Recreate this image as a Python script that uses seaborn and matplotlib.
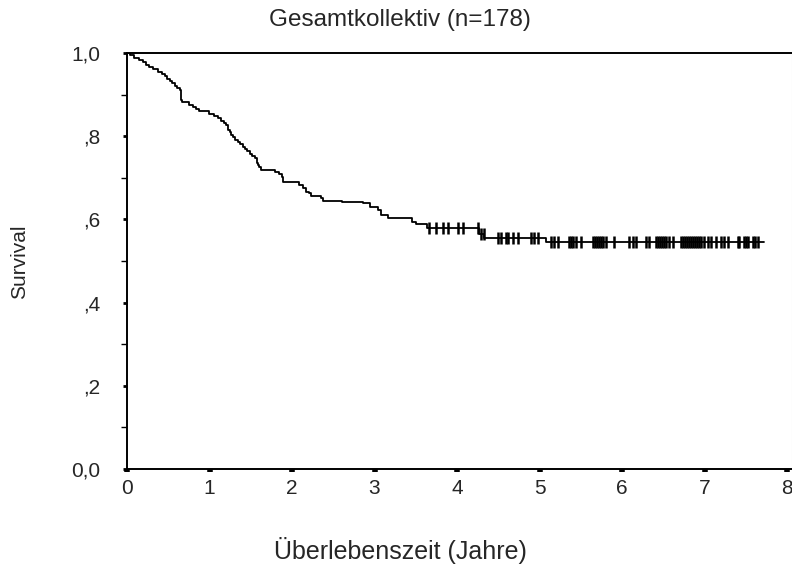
import numpy as np
import pandas as pd
import matplotlib
matplotlib.use("Agg")
import matplotlib.pyplot as plt
import seaborn as sns

sns.set_theme(style="white")
plt.rcParams['font.family'] = ['Liberation Sans', 'DejaVu Sans']

title = "Gesamtkollektiv (n=178)"
xlabel = "Überlebenszeit (Jahre)"
ylabel = "Survival"

# Step function of the Kaplan-Meier curve: time (years) and survival after each event
step_time = [0.00, 0.04, 0.09, 0.14, 0.19, 0.23, 0.27, 0.31, 0.37, 0.42, 0.46, 0.49,
             0.52, 0.55, 0.58, 0.61, 0.64, 0.655, 0.66, 0.67, 0.75, 0.80, 0.84, 0.87,
             0.99, 1.05, 1.10, 1.14, 1.18, 1.20, 1.22, 1.23, 1.25, 1.26, 1.28, 1.31,
             1.34, 1.37, 1.40, 1.43, 1.46, 1.49, 1.52, 1.55, 1.57, 1.58, 1.59, 1.60,
             1.62, 1.79, 1.84, 1.88, 1.89, 2.09, 2.13, 2.17, 2.20, 2.23, 2.35, 2.37,
             2.60, 2.86, 2.94, 3.04, 3.08, 3.16, 3.46, 3.50, 3.64, 4.27, 4.33, 5.08]
step_surv = [1.000, 0.994, 0.989, 0.983, 0.978, 0.972, 0.966, 0.961, 0.955, 0.949, 0.944, 0.938,
             0.933, 0.927, 0.921, 0.916, 0.910, 0.899, 0.888, 0.882, 0.876, 0.871, 0.865, 0.860,
             0.854, 0.848, 0.843, 0.837, 0.831, 0.826, 0.820, 0.815, 0.809, 0.803, 0.798, 0.792,
             0.787, 0.781, 0.775, 0.770, 0.764, 0.758, 0.753, 0.747, 0.742, 0.736, 0.730, 0.725,
             0.719, 0.713, 0.708, 0.702, 0.691, 0.683, 0.675, 0.667, 0.663, 0.657, 0.652, 0.645,
             0.643, 0.639, 0.631, 0.623, 0.611, 0.603, 0.594, 0.588, 0.580, 0.566, 0.556, 0.545]
end_time = 7.72

# Censored observations (years)
censor_time = [3.664, 3.745, 3.827, 3.887, 4.008, 4.069, 4.255, 4.291, 4.327, 4.493,
               4.533, 4.594, 4.622, 4.675, 4.736, 4.897, 4.937, 4.978, 5.139, 5.179,
               5.220, 5.358, 5.382, 5.406, 5.442, 5.503, 5.648, 5.673, 5.697, 5.721,
               5.745, 5.770, 5.806, 5.903, 6.085, 6.133, 6.170, 6.291, 6.327, 6.412,
               6.436, 6.461, 6.485, 6.509, 6.533, 6.570, 6.618, 6.715, 6.739, 6.764,
               6.788, 6.812, 6.836, 6.861, 6.885, 6.909, 6.933, 6.958, 6.994, 7.042,
               7.079, 7.139, 7.200, 7.236, 7.285, 7.406, 7.418, 7.479, 7.503, 7.527,
               7.588, 7.612, 7.648]

xticks = [0, 1, 2, 3, 4, 5, 6, 7, 8]
yticks = [0.0, 0.2, 0.4, 0.6, 0.8, 1.0]
ytick_labels = ["0,0", ",2", ",4", ",6", ",8", "1,0"]

curve = pd.DataFrame({"t": step_time + [end_time], "s": step_surv + [step_surv[-1]]})
st = np.array(step_time)
ss = np.array(step_surv)
censor_surv = [ss[np.searchsorted(st, c, side="right") - 1] for c in censor_time]
cens = pd.DataFrame({"t": censor_time, "s": censor_surv})

fig = plt.figure(figsize=(7.92, 5.67), dpi=100)
ax = fig.add_axes([127/792, 98/567, 665/792, 416/567])

sns.lineplot(data=curve, x="t", y="s", drawstyle="steps-post", color="black",
             linewidth=1.3, ax=ax, estimator=None, sort=False)
sns.scatterplot(data=cens, x="t", y="s", marker="|", s=70, color="black",
                linewidth=1.8, ax=ax)

ax.set_xlim(0, 8 * 665 / 660)
ax.set_ylim(0, 1.0)
ax.set_xticks(xticks)
ax.set_xticklabels([str(v) for v in xticks])
ax.set_yticks(yticks)
ax.set_yticklabels(ytick_labels)
ax.set_yticks(np.arange(0.1, 1.0, 0.2), minor=True)

for side in ["left", "bottom", "top"]:
    ax.spines[side].set_visible(True)
    ax.spines[side].set_color("black")
    ax.spines[side].set_linewidth(1.4)
ax.spines["right"].set_visible(True)
ax.spines["right"].set_color("#dddddd")
ax.spines["right"].set_linewidth(0.8)

ax.tick_params(axis="y", which="major", direction="out", length=3, width=2.0,
               color="black", labelsize=15, pad=16, left=True)
ax.tick_params(axis="y", which="minor", direction="out", length=4, width=1.0,
               color="black", left=True)
ax.tick_params(axis="x", which="major", direction="out", length=2, width=4.0,
               color="black", labelsize=15, pad=5, bottom=True)

ax.set_xlabel("")
ax.set_ylabel("")
ax.grid(False)

fig.text(400/792, 1 - 20/567, title, ha="center", va="center", fontsize=17.5)
fig.text(400/792, 1 - 551/567, xlabel, ha="center", va="center", fontsize=18)
fig.text(20/792, 1 - 262/567, ylabel, ha="center", va="center", rotation=90, fontsize=15)

fig.savefig("out.png", dpi=100)
